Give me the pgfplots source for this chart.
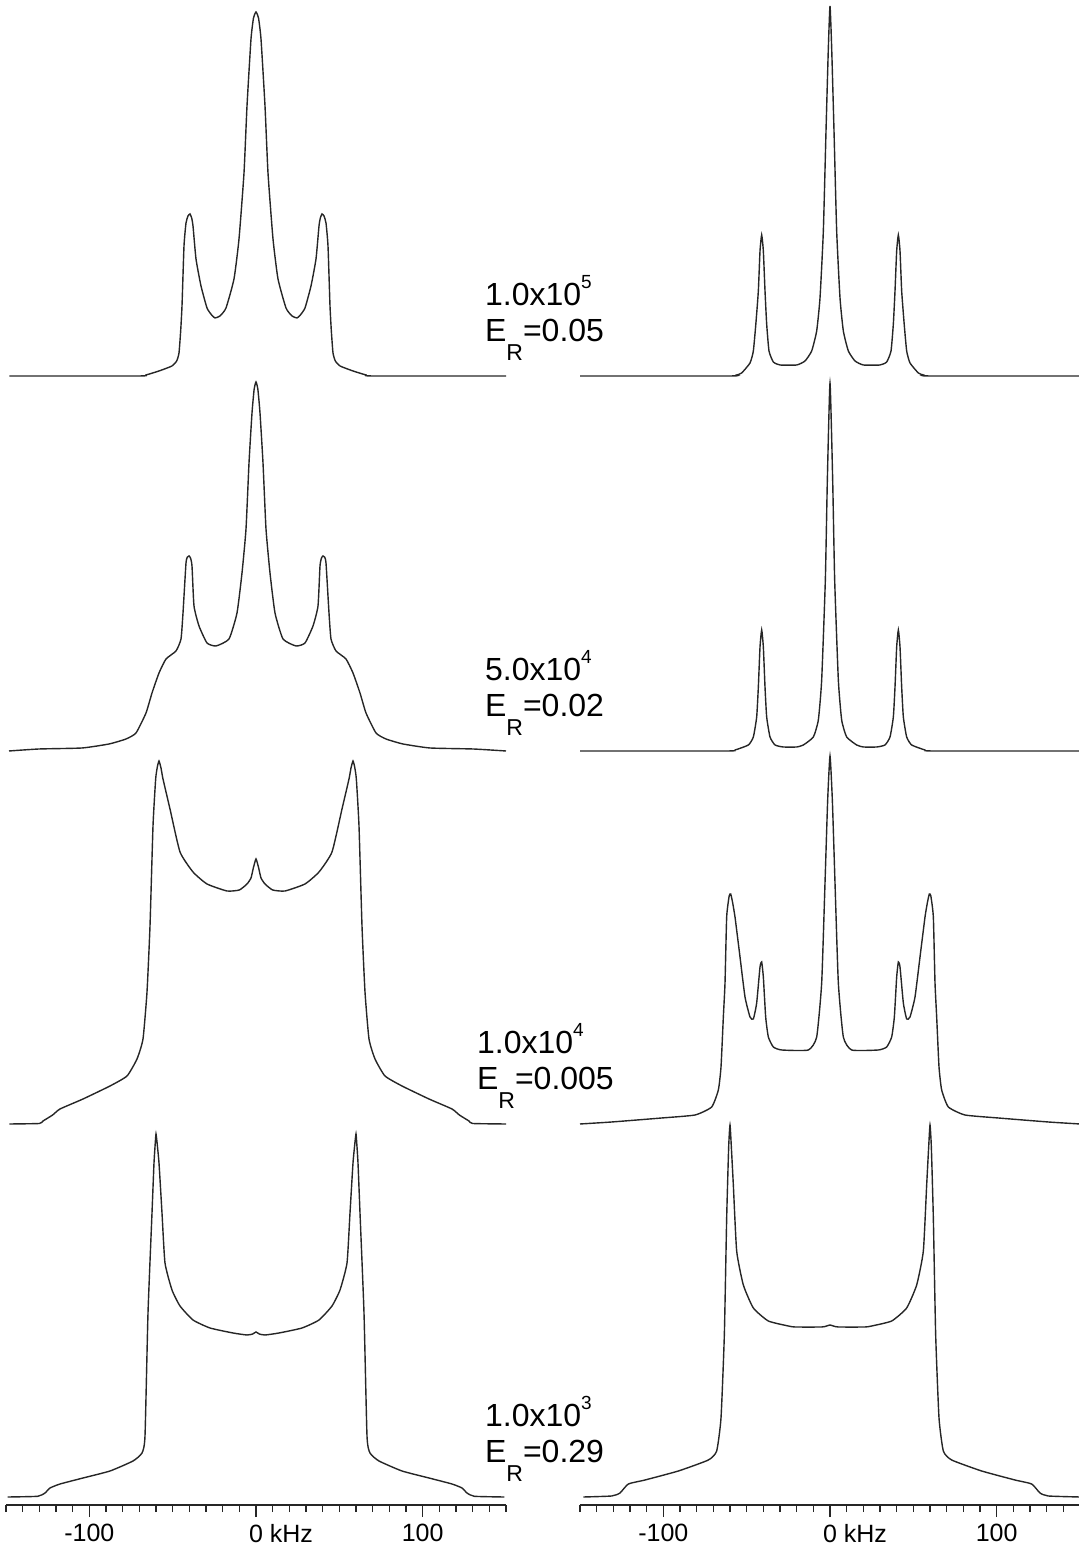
\documentclass[border=0pt]{standalone}
\usepackage{pgfplots}
\pgfplotsset{compat=1.18}
\usepackage{fontspec}
\setmainfont{Liberation Sans}

\pgfplotsset{
  spec/.style={scale only axis, width=250pt, height=190pt,
    xmin=-150, xmax=150, ymin=-8, ymax=372, clip=false, anchor=south west},
  top/.style={spec, hide axis},
  bot/.style={spec, axis x line=bottom, axis y line=none,
    x axis line style={-, line width=0.9pt, black!85},
    xtick={-100,0,100}, xticklabels={-100,{0\rlap{ kHz}},100},
    minor xtick={-150,-140,...,150},
    tick align=outside, major tick length=6pt, minor tick length=3.5pt,
    tick style={line width=0.6pt, black!85},
    xticklabel style={font=\fontsize{12.5}{14}\selectfont, black}},
  sp/.style={black!85, line width=0.7pt, smooth, tension=0.3}
}
\newcommand{\supfive}[1]{\raisebox{8.5pt}{\fontsize{9.5}{10}\selectfont #1}}
\newcommand{\subR}{\raisebox{-9.5pt}{\fontsize{11.5}{12}\selectfont R}}

\begin{document}
\begin{tikzpicture}[x=0.5pt,y=0.5pt]
\path[use as bounding box] (0,0) rectangle (1078,1545);

% ---------- Row 1 (baseline 376) ----------
\begin{axis}[top, at={(3pt,580.5pt)}]
\addplot[sp] coordinates {(-148,0) (-70.2,0) (-66,1) (-58.2,5) (-50.4,10) (-47.6,15) (-46.2,23) (-45.2,45) (-44.4,70) (-43.2,130) (-42,153) (-40.8,160) (-39.6,162) (-38.6,158) (-37.8,150) (-36,117) (-33,90) (-29.4,68) (-26.6,61) (-24.6,58) (-21.6,60) (-18,68) (-13.2,97) (-10.2,137) (-7.2,203) (-5.4,270) (-3,337) (-1.5,358) (0,364) (1.5,358) (3,337) (5.4,270) (7.2,203) (10.2,137) (13.2,97) (18,68) (21.6,60) (24.6,58) (26.6,61) (29.4,68) (33,90) (36,117) (37.8,150) (38.6,158) (39.6,162) (40.8,160) (42,153) (43.2,130) (44.4,70) (45.2,45) (46.2,23) (47.6,15) (50.4,10) (58.2,5) (66,1) (70.2,0) (150,0)};
\end{axis}
\begin{axis}[top, at={(290pt,580.5pt)}]
\addplot[sp] coordinates {(-150,0) (-60,0) (-56,1) (-53,3) (-48,13) (-46,25) (-44.5,52) (-43,85) (-42,125) (-41,141) (-40,125) (-39,85) (-38,52) (-36.6,25) (-34,14) (-30,11) (-20,11) (-15,15) (-11,25) (-8,45) (-6,78) (-4,145) (-2.4,245) (-1,328) (0,370) (1,328) (2.4,245) (4,145) (6,78) (8,45) (11,25) (15,15) (20,11) (30,11) (34,14) (36.6,25) (38,52) (39,85) (40,125) (41,141) (42,125) (43,85) (44.5,52) (46,25) (48,13) (53,3) (56,1) (60,0) (150,0)};
\end{axis}
\node[anchor=base west, font=\fontsize{16}{18}\selectfont] at (478,1239) {1.0x10\supfive{5}};
\node[anchor=base west, font=\fontsize{16}{18}\selectfont] at (478,1203) {E\subR=0.05};

% ---------- Row 2 (baseline 751) ----------
\begin{axis}[top, at={(3pt,393pt)}]
\addplot[sp] coordinates {(-148.2,0) (-130.2,2) (-104.4,3) (-88.2,7) (-78,12) (-72,18) (-66,38) (-62.4,58) (-58.2,78) (-54,92) (-48,100) (-45,112) (-43.8,138) (-42,188) (-41.1,194) (-40.2,195) (-39.3,193) (-38.4,185) (-37.2,145) (-34.2,125) (-29.4,108) (-24,105) (-16.2,112) (-11.4,138) (-8.4,178) (-6,222) (-4.2,288) (-2.4,338) (-1.1,362) (0,369) (1.1,362) (2.4,338) (4.2,288) (6,222) (8.4,178) (11.4,138) (16.2,112) (24,105) (29.4,108) (34.2,125) (37.2,145) (38.4,185) (39.3,193) (40.2,195) (41.1,194) (42,188) (43.8,138) (45,112) (48,100) (54,92) (58.2,78) (62.4,58) (66,38) (72,18) (78,12) (88.2,7) (104.4,3) (130.2,2) (150,0)};
\end{axis}
\begin{axis}[top, at={(290pt,393pt)}]
\addplot[sp] coordinates {(-150,0) (-62,0) (-57,1) (-49,6) (-46,14) (-44,34) (-43,64) (-42,104) (-41,121) (-40,104) (-39,64) (-38,34) (-36,14) (-33,6) (-28,4) (-20,4) (-16,6) (-10,14) (-7,31) (-5,71) (-2.8,171) (-1.6,271) (0,368) (1.6,271) (2.8,171) (5,71) (7,31) (10,14) (16,6) (20,4) (28,4) (33,6) (36,14) (38,34) (39,64) (40,104) (41,121) (42,104) (43,64) (44,34) (46,14) (49,6) (57,1) (62,0) (150,0)};
\end{axis}
\node[anchor=base west, font=\fontsize{16}{18}\selectfont] at (478,864) {5.0x10\supfive{4}};
\node[anchor=base west, font=\fontsize{16}{18}\selectfont] at (478,828) {E\subR=0.02};

% ---------- Row 3 (baseline 1124) ----------
\begin{axis}[top, at={(3pt,206.5pt)}]
\addplot[sp] coordinates {(-148,0) (-130,0.5) (-127.8,3) (-122,9) (-117.6,15) (-103.8,25) (-87.6,38) (-77.4,48) (-71.4,65) (-67.8,85) (-65.4,132) (-63.6,198) (-61.8,298) (-60.2,345) (-59.2,357) (-58.2,363) (-57,356) (-55.8,345) (-51.6,315) (-45.6,272) (-37.8,252) (-29.4,240) (-17.4,233) (-10,234) (-5.4,240) (-3,246) (-1.6,256) (0,265) (1.6,256) (3,246) (5.4,240) (10,234) (17.4,233) (29.4,240) (37.8,252) (45.6,272) (51.6,315) (55.8,345) (57,356) (58.2,363) (59.2,357) (60.2,345) (61.8,298) (63.6,198) (65.4,132) (67.8,85) (71.4,65) (77.4,48) (87.6,38) (103.8,25) (117.6,15) (122,9) (127.8,3) (130,0.5) (150,0)};
\end{axis}
\begin{axis}[top, at={(290pt,206.5pt)}]
\addplot[sp] coordinates {(-150,0) (-131,2) (-101,6) (-81,9) (-71,17) (-67,34) (-65.4,57) (-64,107) (-63,141) (-62,207) (-60.5,228) (-59.6,230) (-58.5,222) (-57,207) (-54,167) (-51,127) (-48,107) (-46,105) (-44,121) (-42,157) (-41,162) (-40,147) (-38.6,107) (-37,87) (-34,77) (-29,74) (-13,74) (-8,87) (-5,141) (-3,241) (-1.4,324) (0,368) (1.4,324) (3,241) (5,141) (8,87) (13,74) (29,74) (34,77) (37,87) (38.6,107) (40,147) (41,162) (42,157) (44,121) (46,105) (48,107) (51,127) (54,167) (57,207) (58.5,222) (59.6,230) (60.5,228) (62,207) (63,141) (64,107) (65.4,57) (67,34) (71,17) (81,9) (101,6) (131,2) (150,0)};
\end{axis}
\node[anchor=base west, font=\fontsize{16}{18}\selectfont] at (470,491) {1.0x10\supfive{4}};
\node[anchor=base west, font=\fontsize{16}{18}\selectfont] at (470,455) {E\subR=0.005};

% ---------- Row 4 (baseline 1497) ----------
\begin{axis}[bot, at={(3pt,20pt)}]
\addplot[sp] coordinates {(-149,0) (-131,0.7) (-126.6,4) (-123.6,9) (-117.6,13) (-103.8,19) (-87.6,26) (-73.8,36) (-68.4,44) (-66.6,61) (-64.8,184) (-62.4,284) (-61.2,334) (-60.4,355) (-60,363) (-59.4,355) (-58.2,334) (-56.4,284) (-54.6,234) (-50.4,207) (-45.6,191) (-37.8,177) (-27.6,169) (-13.8,164) (-5.4,162) (-2,163) (0,165) (2,163) (5.4,162) (13.8,164) (27.6,169) (37.8,177) (45.6,191) (50.4,207) (54.6,234) (56.4,284) (58.2,334) (59.4,355) (60,363) (60.4,355) (61.2,334) (62.4,284) (64.8,184) (66.6,61) (68.4,44) (73.8,36) (87.6,26) (103.8,19) (117.6,13) (123.6,9) (126.6,4) (131,0.7) (149,0)};
\end{axis}
\begin{axis}[bot, at={(290pt,20pt)}]
\addplot[sp] coordinates {(-148,0) (-131,1) (-126,4) (-121,13) (-111,17) (-91,26) (-73,37) (-68,46) (-65.4,79) (-63.4,162) (-62,279) (-60.8,350) (-60,372) (-59.2,350) (-58,312) (-56,246) (-52,212) (-46,189) (-37,176) (-25,171) (-21,170) (-5,170) (-2,171) (0,172) (2,171) (5,170) (21,170) (25,171) (37,176) (46,189) (52,212) (56,246) (58,312) (59.2,350) (60,372) (60.8,350) (62,279) (63.4,162) (65.4,79) (68,46) (73,37) (91,26) (111,17) (121,13) (126,4) (131,1) (150,0)};
\end{axis}
\node[anchor=base west, font=\fontsize{16}{18}\selectfont] at (478,118) {1.0x10\supfive{3}};
\node[anchor=base west, font=\fontsize{16}{18}\selectfont] at (478,82) {E\subR=0.29};

\end{tikzpicture}
\end{document}
